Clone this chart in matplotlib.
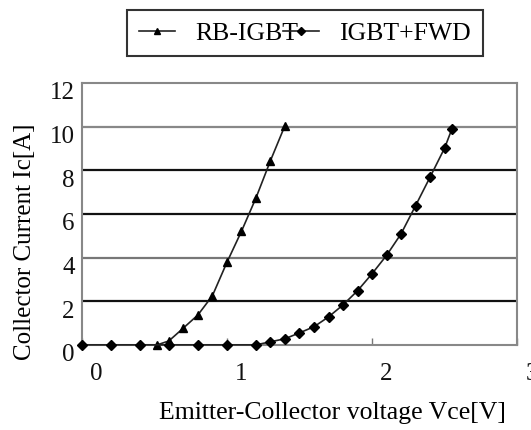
import numpy as np
import matplotlib
matplotlib.use("Agg")
import matplotlib.pyplot as plt
import matplotlib.transforms as mtransforms

# RB-IGBT (triangles)
rb_vce = [0.52, 0.6, 0.7, 0.8, 0.9, 1.0, 1.1, 1.2, 1.3, 1.4]
rb_ic = [0.0, 0.18, 0.77, 1.37, 2.25, 3.78, 5.2, 6.73, 8.44, 10.05]

# IGBT+FWD (diamonds)
fwd_vce = [0.0, 0.2, 0.4, 0.6, 0.8, 1.0, 1.2, 1.3, 1.4, 1.5, 1.6, 1.7, 1.8,
           1.9, 2.0, 2.1, 2.2, 2.3, 2.4, 2.5, 2.55]
fwd_ic = [0.0, 0.0, 0.0, 0.0, 0.0, 0.0, 0.0, 0.14, 0.28, 0.55, 0.83, 1.28, 1.83,
          2.48, 3.26, 4.1, 5.09, 6.38, 7.69, 9.02, 9.89]

x_ticks = [0, 1, 2, 3]
y_ticks = [0, 2, 4, 6, 8, 10, 12]

plt.rcParams['font.family'] = ['Liberation Serif', 'DejaVu Serif']

fig = plt.figure(figsize=(5.31, 4.3), dpi=100)
ax = fig.add_axes([0.154, 0.198, 0.82, 0.609])

# grid lines: the scan shows some darker than others
grid_colors = {2: '#111111', 4: '#777777', 6: '#111111', 8: '#111111', 10: '#888888'}
for y in y_ticks[1:-1]:
    ax.axhline(y, color=grid_colors[y], lw=1.6, zorder=1)

l1, = ax.plot(rb_vce, rb_ic, color='#222222', lw=1.2, marker='^', ms=6,
              markerfacecolor='black', markeredgecolor='black', zorder=3,
              label='RB-IGBT', clip_on=False)
l2, = ax.plot(fwd_vce, fwd_ic, color='#222222', lw=1.2, marker='D', ms=5,
              markerfacecolor='black', markeredgecolor='black', zorder=3,
              label='IGBT+FWD', clip_on=False)

ax.set_xlim(0, 3)
ax.set_ylim(0, 12)
ax.set_xticks(x_ticks)
ax.set_yticks(y_ticks)
ax.tick_params(axis='x', direction='in', length=5, width=1, colors='#777777',
               labelcolor='#111111', labelsize=18, pad=13)
ax.tick_params(axis='y', length=0, labelsize=18, labelcolor='#111111', pad=5)

# shift tick labels like in the reference
offset = mtransforms.ScaledTranslation(0.145, 0, fig.dpi_scale_trans)
for lab in ax.get_xticklabels():
    lab.set_transform(lab.get_transform() + offset)
offset_y = mtransforms.ScaledTranslation(0, -0.08, fig.dpi_scale_trans)
for lab in ax.get_yticklabels():
    lab.set_transform(lab.get_transform() + offset_y)

for s in ax.spines.values():
    s.set_color('#888888')
    s.set_linewidth(1.5)

ax.set_xlabel('Emitter-Collector voltage Vce[V]', fontsize=18.5)
ax.xaxis.set_label_coords(0.575, -0.22)
ax.set_ylabel('Collector Current Ic[A]', fontsize=18, labelpad=10, y=0.393)

leg = fig.legend(handles=[l1, l2], loc='upper left', bbox_to_anchor=(0.23, 0.988),
                 ncol=2, fontsize=18.5, frameon=True, fancybox=False,
                 handlelength=1.4, handletextpad=0.8, columnspacing=-0.6,
                 borderpad=0.45, borderaxespad=0.2, markerscale=0.8)
leg.get_frame().set_edgecolor('black')
leg.get_frame().set_linewidth(1.5)

fig.savefig('out.png', dpi=100)
